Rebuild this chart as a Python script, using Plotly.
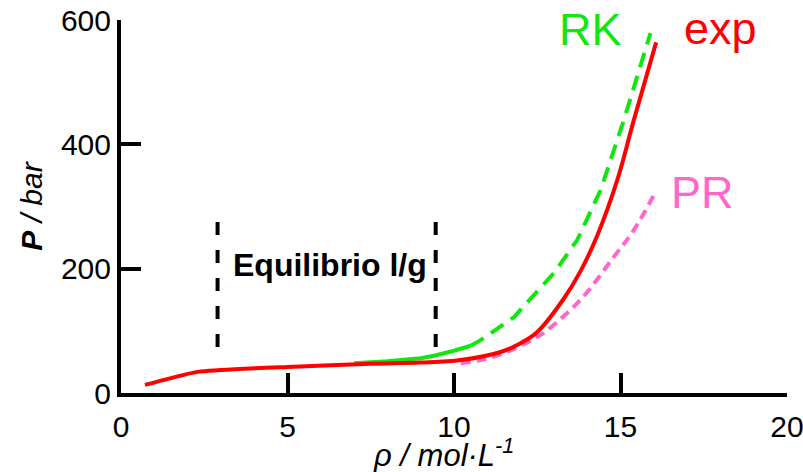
import plotly.graph_objects as go

# Experimental isotherm (density in mol/L, pressure in bar)
exp_rho = [0.72, 1.5, 2.3, 3.0, 5.0, 7.5, 9.0, 10.2, 11.4, 12.0, 12.5, 13.3, 13.8, 14.3, 14.9, 15.4, 16.07]
exp_p = [13, 24, 34, 37, 42, 47, 49, 53, 66, 80, 98, 152, 196, 253, 342, 439, 564]

# Redlich-Kwong: solid part (liquid/gas region) and dashed part
rk_solid_rho = [7.0, 8.0, 9.0, 9.4, 10.0, 10.5]
rk_solid_p = [48, 51, 56, 60, 68, 76]
rk_dash_rho = [10.5, 10.8, 11.8, 12.1, 13.0, 13.7, 14.4, 15.1, 15.9]
rk_dash_p = [76, 85, 122, 140, 193, 246, 326, 439, 579]

# Peng-Robinson
pr_rho = [10.2, 10.8, 11.5, 12.5, 12.8, 13.8, 14.8, 15.4, 16.0]
pr_p = [48, 53, 64, 90, 101, 150, 219, 262, 318]

# Limits of the liquid/gas equilibrium zone
eq_rho = [2.9, 9.45]
eq_p = [74, 278]

x_ticks = [0, 5, 10, 15, 20]
y_ticks = [0, 200, 400, 600]

RED = "#FF0000"
GREEN = "#11E611"
PINK = "#FF66CC"
FONT = "Liberation Sans, Arial, sans-serif"

fig = go.Figure()

for r in eq_rho:
    fig.add_trace(go.Scatter(x=[r, r], y=eq_p, mode="lines",
                             line=dict(color="black", width=4, dash="13px,15px"),
                             showlegend=False, hoverinfo="skip"))

fig.add_trace(go.Scatter(x=rk_solid_rho, y=rk_solid_p, mode="lines",
                         line=dict(color=GREEN, width=4), showlegend=False))
fig.add_trace(go.Scatter(x=rk_dash_rho, y=rk_dash_p, mode="lines",
                         line=dict(color=GREEN, width=4, dash="15px,9px"), showlegend=False))
fig.add_trace(go.Scatter(x=pr_rho, y=pr_p, mode="lines",
                         line=dict(color=PINK, width=4, dash="10px,6px", shape="spline"),
                         showlegend=False))
fig.add_trace(go.Scatter(x=exp_rho, y=exp_p, mode="lines",
                         line=dict(color=RED, width=4, shape="spline"), showlegend=False))

fig.add_annotation(x=6.27, y=206, text="<b>Equilibrio l/g</b>", showarrow=False,
                   font=dict(family=FONT, size=32, color="black"))
fig.add_annotation(x=14.1, y=584, text="RK", showarrow=False,
                   font=dict(family=FONT, size=45, color=GREEN))
fig.add_annotation(x=17.99, y=586, text="exp", showarrow=False,
                   font=dict(family=FONT, size=45, color=RED))
fig.add_annotation(x=17.45, y=322, text="PR", showarrow=False,
                   font=dict(family=FONT, size=45, color=PINK))

# x-axis title, placed slightly left of the plot centre
fig.add_annotation(xref="paper", yref="paper", x=0.484, y=-0.162,
                   xanchor="center", yanchor="middle", showarrow=False,
                   text="<i>ρ / mol·L<sup>-1</sup></i>",
                   font=dict(family=FONT, size=31, color="black"))

axis_common = dict(showline=True, linewidth=4, linecolor="black", showgrid=False,
                   zeroline=False, ticks="inside", ticklen=20, tickwidth=4,
                   tickcolor="black", automargin=False,
                   tickfont=dict(family=FONT, size=30, color="black"))

fig.update_xaxes(range=[0, 20], tickvals=x_ticks, ticktext=[str(v) for v in x_ticks],
                 ticklabeloverflow="allow", ticklabelstandoff=4, **axis_common)
fig.update_yaxes(range=[0, 600], tickvals=y_ticks, ticktext=[str(v) for v in y_ticks],
                 title=dict(text="<b><i>P</i></b><i> / bar</i>", standoff=10,
                            font=dict(family=FONT, size=30, color="black")),
                 **axis_common)

fig.update_layout(width=803, height=472, margin=dict(l=121, r=16, t=20, b=79),
                  paper_bgcolor="white", plot_bgcolor="white")

fig.write_html("out.html")
